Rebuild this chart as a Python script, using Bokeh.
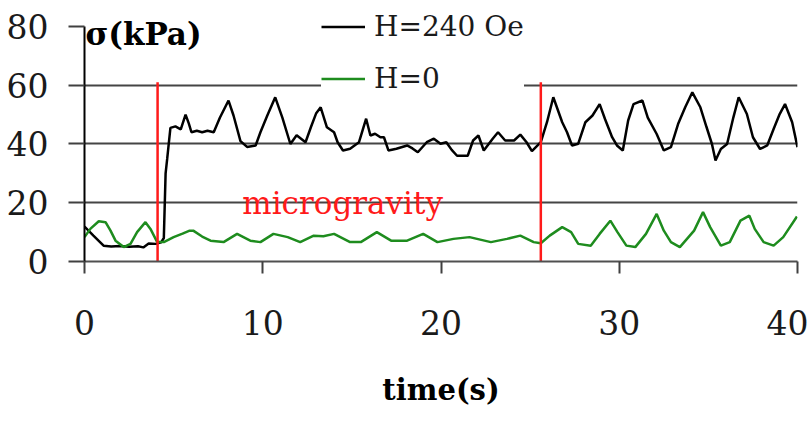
from bokeh.plotting import figure
from bokeh.models import Range1d, FixedTicker, Legend, LegendItem
from bokeh.core.properties import value
from bokeh.embed import file_html
from bokeh.resources import INLINE

# Stress under field (H=240 Oe), time in s / stress in kPa
field_t = [0.0, 0.5, 1.07, 1.5, 2.0, 2.5, 3.0, 3.3, 3.6, 4.0, 4.3, 4.45, 4.55, 4.64, 4.82,
           5.1, 5.4, 5.67, 5.85, 6.0, 6.3, 6.6, 6.9, 7.25, 7.6, 8.08, 8.36, 8.75, 9.12, 9.6,
           9.87, 10.25, 10.7, 11.1, 11.55, 11.9, 12.4, 12.7, 13.0, 13.25, 13.6, 14.0, 14.2,
           14.5, 14.9, 15.4, 15.6, 15.8, 16.04, 16.3, 16.6, 16.8, 17.05, 17.5, 18.1, 18.4,
           18.7, 19.2, 19.6, 19.97, 20.3, 20.6, 20.9, 21.5, 21.8, 22.1, 22.4, 22.9, 23.2,
           23.6, 24.1, 24.45, 24.8, 25.1, 25.6, 25.95, 26.3, 26.8, 27.07, 27.35, 27.7, 28.1,
           28.5, 28.9, 29.2, 29.6, 29.87, 30.2, 30.5, 30.8, 31.3, 31.6, 32.1, 32.5, 32.9,
           33.3, 33.7, 34.1, 34.55, 34.9, 35.2, 35.4, 35.7, 36.05, 36.4, 36.7, 37.16, 37.5,
           37.9, 38.3, 38.66, 39.0, 39.3, 39.7, 40.0]
field_v = [11.9, 8.8, 5.4, 5.1, 5.3, 5.0, 5.2, 4.8, 6.1, 6.0, 6.5, 8.0, 30.0, 35.0, 45.5,
           46.0, 45.0, 50.0, 47.0, 44.0, 44.5, 44.0, 44.5, 44.0, 49.0, 54.8, 49.7, 41.0, 39.0, 39.5,
           44.0, 49.6, 55.9, 49.0, 40.0, 43.0, 40.6, 45.7, 50.5, 52.5, 45.7, 44.0, 40.6,
           37.8, 38.4, 40.6, 44.6, 48.6, 42.9, 43.5, 42.3, 42.3, 37.8, 38.4, 39.5, 38.5,
           37.2, 40.6, 41.8, 40.1, 40.6, 38.0, 36.0, 36.0, 41.2, 42.9, 37.8, 41.8, 44.0,
           41.2, 41.2, 43.2, 40.6, 37.6, 40.6, 47.5, 55.9, 47.4, 44.0, 39.5, 40.1, 47.4,
           49.7, 53.6, 48.5, 42.3, 39.5, 37.8, 48.0, 53.6, 54.8, 49.0, 43.4, 37.8, 38.9,
           46.8, 52.5, 57.6, 52.5, 45.7, 40.0, 34.4, 38.3, 40.0, 49.0, 55.9, 50.2, 42.3,
           38.3, 39.5, 45.1, 50.2, 53.6, 47.4, 38.9]

# Stress without field (H=0)
zero_t = [0.0, 0.34, 0.8, 1.18, 1.46, 1.74, 2.2, 2.58, 2.95, 3.42, 3.7, 4.08, 4.45, 5.0,
          5.5, 5.9, 6.1, 6.6, 7.07, 7.8, 8.56, 9.3, 9.87, 10.6, 11.4, 12.1, 12.86, 13.4,
          14.0, 14.9, 15.5, 16.4, 17.2, 18.1, 19.0, 19.8, 20.7, 21.6, 22.8, 23.7, 24.45,
          25.2, 25.6, 26.1, 26.8, 27.3, 27.7, 28.4, 28.9, 29.5, 29.9, 30.4, 30.9, 31.5,
          32.1, 32.5, 32.9, 33.4, 34.2, 34.7, 35.1, 35.7, 36.2, 36.8, 37.3, 37.6, 38.1,
          38.66, 39.2, 39.97]
zero_v = [8.3, 11.2, 13.7, 13.4, 10.5, 7.1, 4.9, 6.0, 10.0, 13.4, 11.1, 6.6, 6.6, 8.3,
          9.5, 10.5, 10.5, 8.5, 7.1, 6.6, 9.4, 7.1, 6.6, 9.4, 8.3, 6.6, 8.8, 8.6,
          9.4, 6.6, 6.6, 10.0, 7.1, 7.1, 9.4, 6.6, 7.7, 8.3, 6.6, 7.7, 8.8,
          6.6, 6.2, 8.8, 11.7, 10.0, 6.0, 5.4, 9.4, 13.9, 10.0, 5.4, 4.9, 9.4,
          16.2, 10.5, 6.6, 4.9, 10.5, 16.8, 11.7, 5.4, 6.6, 13.9, 15.6, 11.1, 6.6,
          5.4, 8.3, 15.3]

# Start and end of the microgravity phase (s) and the height of the markers (kPa)
phase_t = [4.1, 25.6]
phase_top = 61

y_ticks = [0, 20, 40, 60, 80]
x_ticks = [0, 10, 20, 30, 40]

SERIF = "DejaVu Serif"

# the frame reaches the top of the canvas so the legend has room above 80 kPa;
# the axis itself stops at 80
p = figure(width=808, height=422, output_backend="svg", toolbar_location=None,
           x_range=Range1d(0, 40), y_range=Range1d(0, 88.85),
           min_border_left=84, min_border_right=11, min_border_top=0, min_border_bottom=161)
p.outline_line_color = None
p.background_fill_color = "white"
p.border_fill_color = "white"

p.xgrid.visible = False
p.ygrid.ticker = FixedTicker(ticks=[20, 40, 60])
p.ygrid.grid_line_color = "#454545"
p.ygrid.grid_line_width = 2

p.xaxis.ticker = FixedTicker(ticks=x_ticks)
p.yaxis.ticker = FixedTicker(ticks=y_ticks)
p.yaxis.bounds = (0, 80)
for ax in (p.xaxis[0], p.yaxis[0]):
    ax.minor_tick_line_color = None
    ax.major_tick_in = 0
    ax.major_label_text_font = SERIF
    ax.major_label_text_font_size = "33px"
    ax.major_label_text_color = "#1a1a1a"
    ax.major_tick_line_width = 2

p.xaxis.axis_line_color = "#505050"
p.xaxis.axis_line_width = 2
p.xaxis.major_tick_line_color = "#404040"
p.xaxis.major_tick_out = 12
p.xaxis.major_label_standoff = 36
p.xaxis.axis_label = "time(s)"
p.xaxis.axis_label_text_font = SERIF
p.xaxis.axis_label_text_font_style = "bold"
p.xaxis.axis_label_text_font_size = "29px"
p.xaxis.axis_label_text_color = "black"
p.xaxis.axis_label_standoff = 35

p.yaxis.axis_line_color = "black"
p.yaxis.axis_line_width = 2
p.yaxis.major_tick_line_color = "#404040"
p.yaxis.major_tick_out = 16
p.yaxis.major_label_standoff = 20

r_field = p.line(field_t, field_v, line_color="black", line_width=2.5)
r_zero = p.line(zero_t, zero_v, line_color="#1e8c1e", line_width=2.5)

p.segment(x0=phase_t, y0=[0] * len(phase_t), x1=phase_t, y1=[phase_top] * len(phase_t),
          line_color="#ff1a1a", line_width=2.5)

p.text(x=[8.85], y=[19.8], text=["microgravity"], text_color="#ff1a1a",
       text_font=value(SERIF), text_font_size="31px", text_baseline="alphabetic",
       text_align="left")

p.text(x=[0.05], y=[77.6], text=["σ(kPa)"], text_color="black",
       text_font=value(SERIF), text_font_style="bold", text_font_size="31px",
       text_baseline="alphabetic", text_align="left")

legend = Legend(items=[LegendItem(label="H=240 Oe", renderers=[r_field]),
                       LegendItem(label="H=0", renderers=[r_zero])],
                location=(237, 163), orientation="vertical",
                label_text_font=SERIF, label_text_font_size="28px",
                label_text_color="#1a1a1a",
                glyph_width=44, glyph_height=39, label_height=39,
                label_standoff=9, spacing=13, padding=4,
                border_line_color=None, background_fill_color="white",
                background_fill_alpha=1.0)
p.add_layout(legend, "center")

open("out.html", "w").write(file_html(p, INLINE))
